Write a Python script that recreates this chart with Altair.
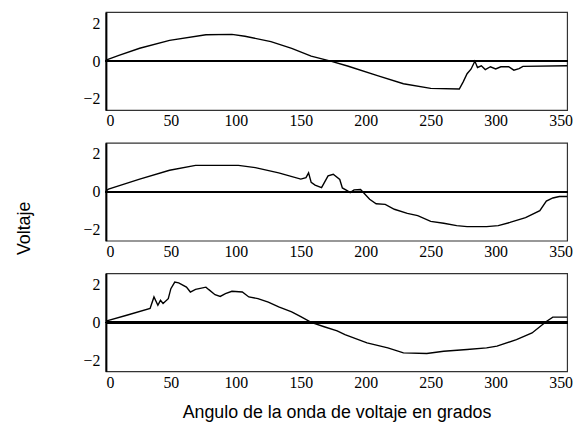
import altair as alt
import pandas as pd

# Phase angle (degrees) and voltage for each of the three recorded waveforms
deg_a = [0, 10, 26, 49, 77, 97, 107, 127, 143, 158, 173, 186, 209, 229, 250, 272,
         275, 278, 281, 284, 286, 289, 292, 296, 300, 304, 310, 314, 318, 321, 355]
volt_a = [0.05, 0.3, 0.68, 1.1, 1.4, 1.42, 1.32, 1.03, 0.68, 0.26, 0.0, -0.26, -0.77,
          -1.2, -1.45, -1.48, -1.1, -0.67, -0.43, 0.0, -0.34, -0.25, -0.45, -0.3,
          -0.42, -0.3, -0.3, -0.48, -0.4, -0.28, -0.25]

deg_b = [0, 2, 26, 49, 69, 102, 115, 133, 150, 154, 156, 158, 161, 166, 171, 175,
         180, 182, 186, 188, 191, 196, 203, 208, 215, 222, 232, 240, 250, 260, 270,
         278, 293, 302, 311, 323, 334, 339, 344, 349, 355]
volt_b = [0.05, 0.14, 0.67, 1.14, 1.4, 1.4, 1.28, 1.0, 0.67, 0.75, 1.0, 0.5, 0.35,
          0.22, 0.84, 0.93, 0.65, 0.2, 0.05, -0.05, 0.1, 0.12, -0.4, -0.64, -0.67,
          -0.93, -1.15, -1.27, -1.57, -1.67, -1.8, -1.85, -1.85, -1.8, -1.63, -1.37,
          -1.0, -0.5, -0.33, -0.25, -0.25]

deg_c = [0, 16, 34, 37, 40, 42, 44, 48, 50, 53, 56, 62, 65, 69, 77, 79, 84, 88, 92,
         97, 105, 110, 117, 125, 133, 143, 150, 158, 168, 178, 184, 201, 217, 229,
         247, 260, 278, 293, 301, 316, 328, 339, 344, 355]
volt_c = [0.07, 0.38, 0.74, 1.35, 0.91, 1.17, 1.0, 1.26, 1.79, 2.14, 2.1, 1.87, 1.61,
          1.75, 1.87, 1.75, 1.47, 1.38, 1.53, 1.65, 1.61, 1.35, 1.26, 1.08, 0.82,
          0.56, 0.3, 0.0, -0.23, -0.45, -0.65, -1.09, -1.35, -1.62, -1.65, -1.53,
          -1.44, -1.35, -1.26, -0.92, -0.56, 0.05, 0.28, 0.28]

x_ticks = [0, 50, 100, 150, 200, 250, 300, 350]
y_ticks = [-2, 0, 2]

SERIF = "Liberation Serif"
SANS = "Liberation Sans"
W, H = 466, 99


def panel(deg, volt, x_title=None, y_title=None):
    df = pd.DataFrame({"grados": deg, "voltaje": volt})
    x_axis = alt.Axis(values=x_ticks, ticks=False, domain=False, grid=False,
                      labelFont=SERIF, labelFontSize=16, labelPadding=3,
                      labelColor="black", title=x_title, titleFont=SANS,
                      titleFontSize=18, titleFontWeight="normal",
                      titleColor="black", titlePadding=14)
    y_kwargs = dict(values=y_ticks, ticks=False, grid=False, domain=True,
                    domainColor="black", domainWidth=2, labelFont=SERIF,
                    labelFontSize=16, labelPadding=6, labelColor="black",
                    title=y_title)
    if y_title:
        y_kwargs.update(titleFont=SANS, titleFontSize=18, titleFontWeight="normal",
                        titleColor="black", titleX=-82, titleY=86,
                        titleAngle=270, titleBaseline="middle", titleAlign="center")
    x = alt.X("grados:Q", scale=alt.Scale(domain=[0, 355], nice=False), axis=x_axis)
    y = alt.Y("voltaje:Q", scale=alt.Scale(domain=[-2.6, 2.6], nice=False),
              axis=alt.Axis(**y_kwargs))
    wave = alt.Chart(df).mark_line(color="black", strokeWidth=1.4).encode(x=x, y=y)
    zero = alt.Chart(df).mark_rule(color="black", strokeWidth=1.5).encode(
        y=alt.datum(0))
    return alt.layer(zero, wave).properties(width=W, height=H)


chart = alt.vconcat(
    panel(deg_a, volt_a),
    panel(deg_b, volt_b, y_title="Voltaje"),
    panel(deg_c, volt_c, x_title="Angulo de la onda de voltaje en grados"),
    spacing=12,
).properties(
    padding={"left": 15, "top": 9, "right": 5, "bottom": 5},
    background="white",
).configure_view(
    stroke="#333333", strokeWidth=1.2
)

chart.save("out.html", embed_options={"renderer": "svg", "actions": False})
